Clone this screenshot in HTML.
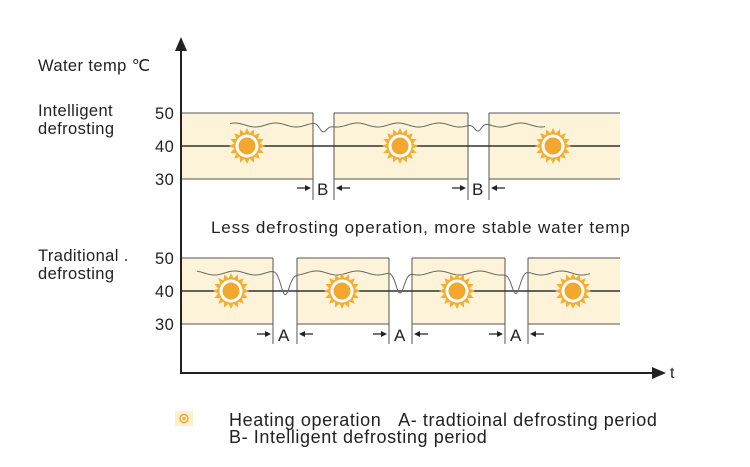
<!DOCTYPE html>
<html><head><meta charset="utf-8"><style>
body{margin:0;background:#fff}
svg{display:block}
text{font-family:"Liberation Sans",sans-serif;fill:#222}
</style></head><body>
<svg id="s" width="750" height="467" viewBox="0 0 750 467" xmlns="http://www.w3.org/2000/svg">
<defs>
<g id="sun">
<polygon id="star" fill="#f5ae34" points=""/>
<circle r="11.5" fill="#fff"/>
<circle r="8.5" fill="#f2a72e"/>
</g>
</defs>
<g fill="#fdf3d8">
<rect x="181" y="113" width="132" height="66"/><rect x="334" y="113" width="134" height="66"/><rect x="489" y="113" width="131" height="66"/>
<rect x="181" y="258" width="92" height="66"/><rect x="297" y="258" width="92" height="66"/><rect x="412" y="258" width="93" height="66"/><rect x="528" y="258" width="92" height="66"/>
</g>
<g stroke="#555" stroke-width="1" fill="none">
<path d="M181 113H313M334 113H468M489 113H620M181 179H313M334 179H468M489 179H620"/>
<path d="M181 258H273M297 258H389M412 258H505M528 258H620M181 324H273M297 324H389M412 324H505M528 324H620"/>
<path d="M313 113V200M334 113V200M468 113V200M489 113V200"/>
<path d="M273 258V344M297 258V344M389 258V344M412 258V344M505 258V344M528 258V344"/>
</g>
<g stroke="#333" stroke-width="1.6">
<path d="M181 146H620M181 291H620"/>
</g>
<g stroke="#666" stroke-width="1" fill="none">
<path id="w1" d=""/>
<path id="w2" d=""/>
</g>
<use href="#sun" x="247" y="146"/><use href="#sun" x="400" y="146"/><use href="#sun" x="553" y="146"/>
<use href="#sun" x="231" y="291"/><use href="#sun" x="342" y="291"/><use href="#sun" x="457" y="291"/><use href="#sun" x="573" y="291"/>
<g stroke="#222" stroke-width="2" fill="none"><path d="M181 48V373H655"/></g>
<polygon points="181,37 175,51 187,51" fill="#222"/>
<polygon points="666,373 652,367 652,379" fill="#222"/>
<g stroke="#222" stroke-width="1.2" fill="#222">
<path d="M297 188H308M339 188H350M452 188H463M494 188H505"/>
<path d="M257 334H268M302 334H313M373 334H384M417 334H428M489 334H500M533 334H544"/>
</g>
<g fill="#222">
<polygon points="311,188 305,185 305,191"/><polygon points="336,188 342,185 342,191"/>
<polygon points="466,188 460,185 460,191"/><polygon points="491,188 497,185 497,191"/>
<polygon points="271,334 265,331 265,337"/><polygon points="299,334 305,331 305,337"/>
<polygon points="387,334 381,331 381,337"/><polygon points="414,334 420,331 420,337"/>
<polygon points="503,334 497,331 497,337"/><polygon points="530,334 536,331 536,337"/>
</g>
<g font-size="17">
<text x="317" y="195">B</text><text x="472" y="195">B</text>
<text x="278" y="341">A</text><text x="394" y="341">A</text><text x="510" y="341">A</text>
</g>
<g font-size="16.5" letter-spacing="0.4">
<text x="38" y="71">Water temp ℃</text>
<text x="38" y="116">Intelligent</text><text x="38" y="134">defrosting</text>
<text x="38" y="261">Traditional .</text><text x="38" y="279">defrosting</text>
<text x="155" y="119">50</text><text x="155" y="152">40</text><text x="155" y="185">30</text>
<text x="155" y="264">50</text><text x="155" y="297">40</text><text x="155" y="330">30</text>
</g>
<text x="211" y="233" font-size="17" letter-spacing="0.85">Less defrosting operation, more stable water temp</text>
<text x="670" y="378" font-size="16">t</text>
<rect x="175" y="411" width="18" height="15" fill="#fdf0cf"/>
<circle cx="184" cy="418.5" r="4" fill="none" stroke="#f2a72e" stroke-width="1.5"/>
<circle cx="184" cy="418.5" r="1.6" fill="#f2a72e"/>
<g font-size="18" letter-spacing="0.6">
<text x="229" y="426">Heating operation&#160;&#160;&#160;A- tradtioinal defrosting period</text>
<text x="229" y="443">B- Intelligent defrosting period</text>
</g>
</svg>
<script>
var p=[];for(var i=0;i<32;i++){var a=i*Math.PI/16,r=i%2?13:18;p.push((r*Math.sin(a)).toFixed(2)+","+(-r*Math.cos(a)).toFixed(2));}
document.getElementById('star').setAttribute('points',p.join(' '));
function wave(x0,x1,y,amp,dips,depth,w){var d="";for(var x=x0;x<=x1;x++){var v=y+amp*Math.sin(x/6.5);for(var k=0;k<dips.length;k++){var t=(x-dips[k])/w;v+=depth*Math.exp(-t*t);}d+=(x==x0?"M":"L")+x+" "+v.toFixed(2);}return d;}
document.getElementById('w1').setAttribute('d',wave(230,545,125,2,[323,478],8,5));
document.getElementById('w2').setAttribute('d',wave(197,590,273,2,[285,400,516],22,6));
</script>
</body></html>
